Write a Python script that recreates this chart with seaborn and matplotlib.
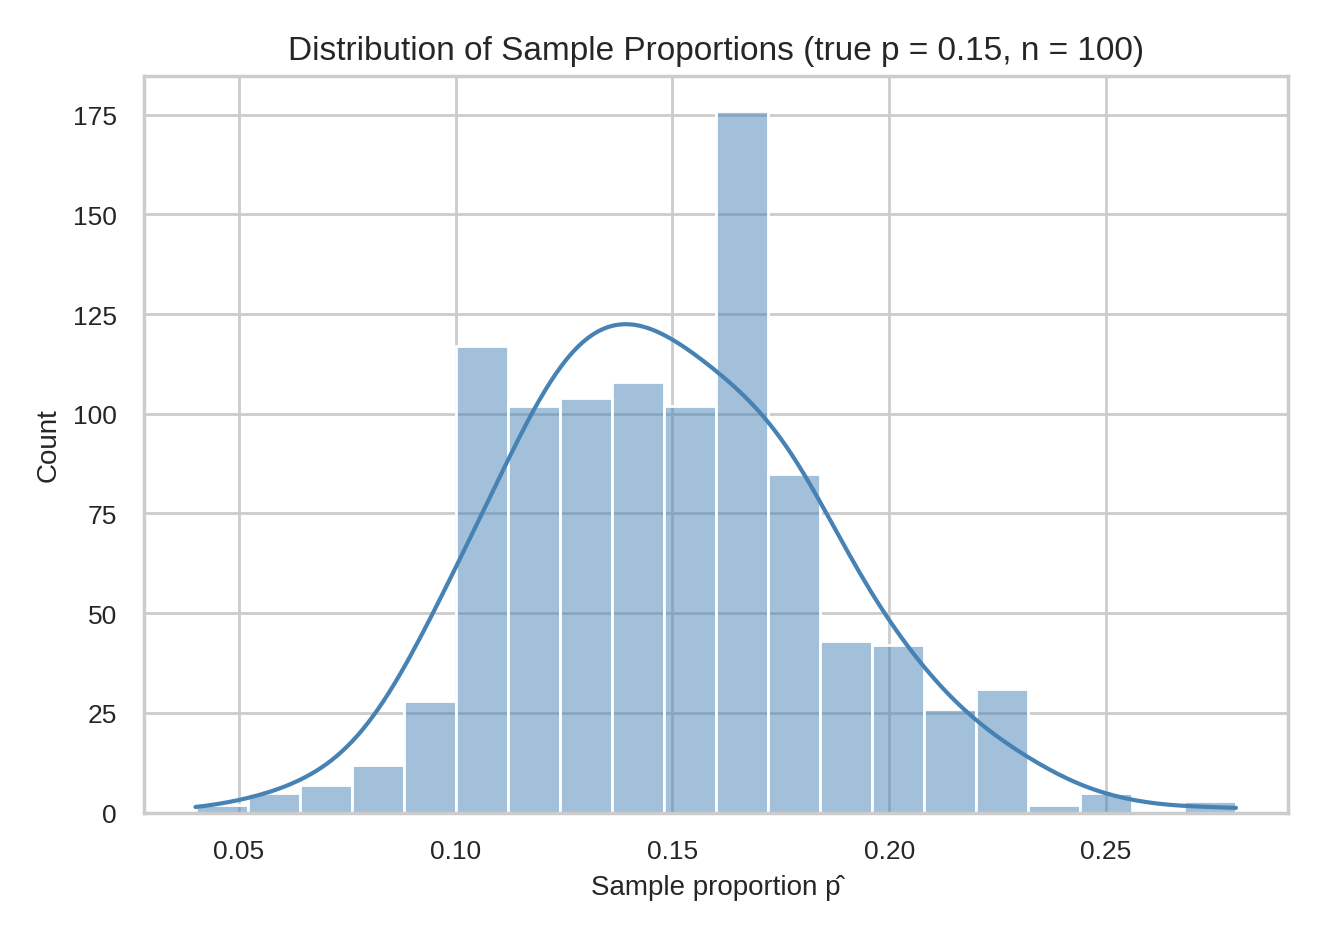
import numpy as np
import pandas as pd
import matplotlib.pyplot as plt
import seaborn as sns

# sample proportions (k/100) and how many samples gave each one
p_hat = [0.04, 0.05, 0.06, 0.07, 0.08, 0.09, 0.10, 0.11, 0.12, 0.13, 0.14,
         0.15, 0.16, 0.17, 0.18, 0.19, 0.20, 0.21, 0.22, 0.23, 0.24, 0.25,
         0.27, 0.28]
counts = [1, 1, 5, 7, 12, 28, 60, 57, 102, 104, 108,
          102, 90, 86, 85, 43, 42, 26, 14, 17, 2, 5,
          1, 2]

df = pd.DataFrame({'p_hat': np.round(p_hat, 2), 'count': counts})
# nudge values off the bin edges so each lands in the intended bin (keep last inside range)
df['p_hat'] = np.minimum(df['p_hat'] + 1e-9, 0.28)

sns.set_theme(style='whitegrid')
plt.rcParams['font.family'] = ['Liberation Sans', 'DejaVu Sans']
fig, ax = plt.subplots(figsize=(6.62, 4.685), dpi=200)
sns.histplot(data=df, x='p_hat', weights='count', bins=20, binrange=(0.04, 0.28),
             kde=True, kde_kws={'bw_adjust': 0.55}, color='steelblue', ax=ax,
             line_kws={'linewidth': 1.5})
ax.set_title('Distribution of Sample Proportions (true p = 0.15, n = 100)', fontsize=12)
ax.set_xlabel('Sample proportion p̂', fontsize=10)
ax.set_ylabel('Count', fontsize=10)
ax.tick_params(labelsize=9.5)
plt.tight_layout()
plt.savefig('out.png')
